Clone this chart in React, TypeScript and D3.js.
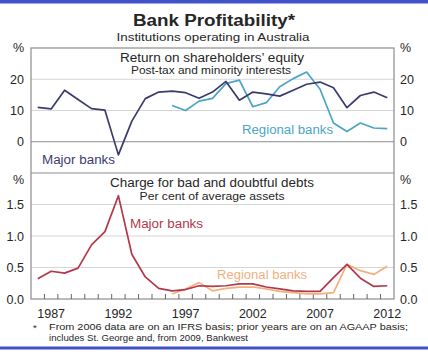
import React from 'react';
import * as d3 from 'd3';

const years = d3.range(1986, 2013);
const regionalYears = d3.range(1996, 2013);

// Return on shareholders' equity, %
const roeMajor = [11, 10.5, 16.5, 13.5, 10.6, 10.1, -4.2, 6.6, 13.8, 15.9, 16.2, 15.7, 13.9, 15.9, 19.3, 13.3, 15.9, 15.3, 14.6, 16.5, 18.4, 19.1, 17.3, 10.9, 14.8, 15.9, 14.1];
const roeRegional = [11.6, 10, 13, 13.9, 18.6, 19.7, 11.2, 12.5, 17.6, 20.2, 22.3, 16.8, 6, 3.3, 6, 4.4, 4.2];

// Charge for bad and doubtful debts, % of average assets
const debtMajor = [0.32, 0.44, 0.41, 0.49, 0.86, 1.07, 1.64, 0.71, 0.35, 0.17, 0.13, 0.15, 0.21, 0.2, 0.21, 0.24, 0.24, 0.19, 0.16, 0.13, 0.12, 0.12, 0.34, 0.55, 0.33, 0.2, 0.21];
const debtRegional = [0.08, 0.16, 0.26, 0.13, 0.17, 0.19, 0.19, 0.16, 0.12, 0.1, 0.08, 0.08, 0.1, 0.55, 0.45, 0.39, 0.52];

const roeTicks = [0, 10, 20];
const debtTicks = [0, 0.5, 1, 1.5];
const yearLabels = [1987, 1992, 1997, 2002, 2007, 2012];

const W = 428;
const H = 358;
const left = 31;
const right = 394;
const font = '"Liberation Sans", Arial, sans-serif';

const navy = '#3b3b6d';
const teal = '#4aa5c4';
const red = '#b3384b';
const orange = '#f3b07c';
const ink = '#262626';

export default function App() {
  const x = d3.scaleLinear().domain([1985.5, 2012.5]).range([left, right]);
  const yTop = d3.scaleLinear().domain([-10, 30]).range([173, 48]);
  const yBot = d3.scaleLinear().domain([0, 2]).range([299, 173]);

  // one path per series, x from the year list, y from the panel's scale
  const path = (xs: number[], vals: number[], y: d3.ScaleLinear<number, number>) =>
    d3.line<number>().x((_, i) => x(xs[i])).y(d => y(d))(vals) || '';

  return (
    <svg width={W} height={H} style={{ position: 'absolute', left: 0, top: 0, background: '#fff' }} fontFamily={font}>
      <rect x={0} y={0} width={W} height={3.5} fill="#4151c9" />
      <rect x={0} y={346.5} width={W} height={3} fill="#4151c9" />

      <text x={214} y={26} textAnchor="middle" fontSize={16} fontWeight="bold" fill={ink} textLength={162} lengthAdjust="spacingAndGlyphs">Bank Profitability*</text>
      <text x={213} y={41} textAnchor="middle" fontSize={11.5} fill={ink} textLength={193} lengthAdjust="spacingAndGlyphs">Institutions operating in Australia</text>

      {/* gridlines */}
      {roeTicks.filter(t => t !== 0).map(t => (
        <line key={'gt' + t} x1={left} x2={right} y1={yTop(t)} y2={yTop(t)} stroke="#d6d6d6" strokeWidth={1} />
      ))}
      {debtTicks.filter(t => t !== 0).map(t => (
        <line key={'gb' + t} x1={left} x2={right} y1={yBot(t)} y2={yBot(t)} stroke="#d6d6d6" strokeWidth={1} />
      ))}
      <line x1={left} x2={right} y1={yTop(0)} y2={yTop(0)} stroke="#8c8c8c" strokeWidth={1.2} />

      {/* frame */}
      <rect x={left} y={48} width={right - left} height={299 - 48} fill="none" stroke="#8c8c8c" strokeWidth={1.2} />
      <line x1={left} x2={right} y1={173} y2={173} stroke="#8c8c8c" strokeWidth={1.2} />

      {/* year ticks */}
      {years.slice(0, -1).map(yr => (
        <line key={'tk' + yr} x1={x(yr + 0.5)} x2={x(yr + 0.5)} y1={299} y2={294} stroke="#666" strokeWidth={1} />
      ))}
      {yearLabels.map(yr => (
        <text key={'yl' + yr} x={x(yr)} y={318} textAnchor="middle" fontSize={12.5} fill={ink}>{yr}</text>
      ))}

      {/* axis labels */}
      {[left - 7, right + 6].map((lx, k) => (
        <g key={'ax' + k} fontSize={12.5} fill={ink} textAnchor={k === 0 ? 'end' : 'start'}>
          <text x={lx} y={52}>%</text>
          {roeTicks.map(t => (
            <text key={t} x={lx} y={yTop(t) + 4.5}>{t}</text>
          ))}
          <text x={lx} y={184}>%</text>
          {debtTicks.map(t => (
            <text key={t} x={lx} y={yBot(t) + 4.5}>{t.toFixed(1)}</text>
          ))}
        </g>
      ))}

      {/* panel titles */}
      <text x={212} y={62} textAnchor="middle" fontSize={12} fill={ink} textLength={184} lengthAdjust="spacingAndGlyphs">Return on shareholders’ equity</text>
      <text x={211} y={73.5} textAnchor="middle" fontSize={10} fill={ink} textLength={160} lengthAdjust="spacingAndGlyphs">Post-tax and minority interests</text>
      <text x={212} y={187} textAnchor="middle" fontSize={12} fill={ink} textLength={204} lengthAdjust="spacingAndGlyphs">Charge for bad and doubtful debts</text>
      <text x={212} y={199.5} textAnchor="middle" fontSize={10} fill={ink} textLength={145} lengthAdjust="spacingAndGlyphs">Per cent of average assets</text>

      {/* series */}
      <path d={path(regionalYears, roeRegional, yTop)} fill="none" stroke={teal} strokeWidth={1.7} strokeLinejoin="round" />
      <path d={path(years, roeMajor, yTop)} fill="none" stroke={navy} strokeWidth={1.7} strokeLinejoin="round" />
      <path d={path(regionalYears, debtRegional, yBot)} fill="none" stroke={orange} strokeWidth={1.7} strokeLinejoin="round" />
      <path d={path(years, debtMajor, yBot)} fill="none" stroke={red} strokeWidth={1.7} strokeLinejoin="round" />

      {/* series labels */}
      <text x={42} y={164} fontSize={12.5} fill={navy} textLength={73} lengthAdjust="spacingAndGlyphs">Major banks</text>
      <text x={242} y={134} fontSize={12.5} fill={teal} textLength={91} lengthAdjust="spacingAndGlyphs">Regional banks</text>
      <text x={130} y={228} fontSize={12.5} fill={red} textLength={73} lengthAdjust="spacingAndGlyphs">Major banks</text>
      <text x={217} y={279} fontSize={12.5} fill={orange} textLength={90} lengthAdjust="spacingAndGlyphs">Regional banks</text>

      {/* footnote */}
      <text x={33} y={331} fontSize={9.5} fill={ink}>*</text>
      <text x={49} y={330} fontSize={9.5} fill={ink} textLength={359} lengthAdjust="spacingAndGlyphs">From 2006 data are on an IFRS basis; prior years are on an AGAAP basis;</text>
      <text x={49} y={341} fontSize={9.5} fill={ink} textLength={199} lengthAdjust="spacingAndGlyphs">includes St. George and, from 2009, Bankwest</text>
    </svg>
  );
}
